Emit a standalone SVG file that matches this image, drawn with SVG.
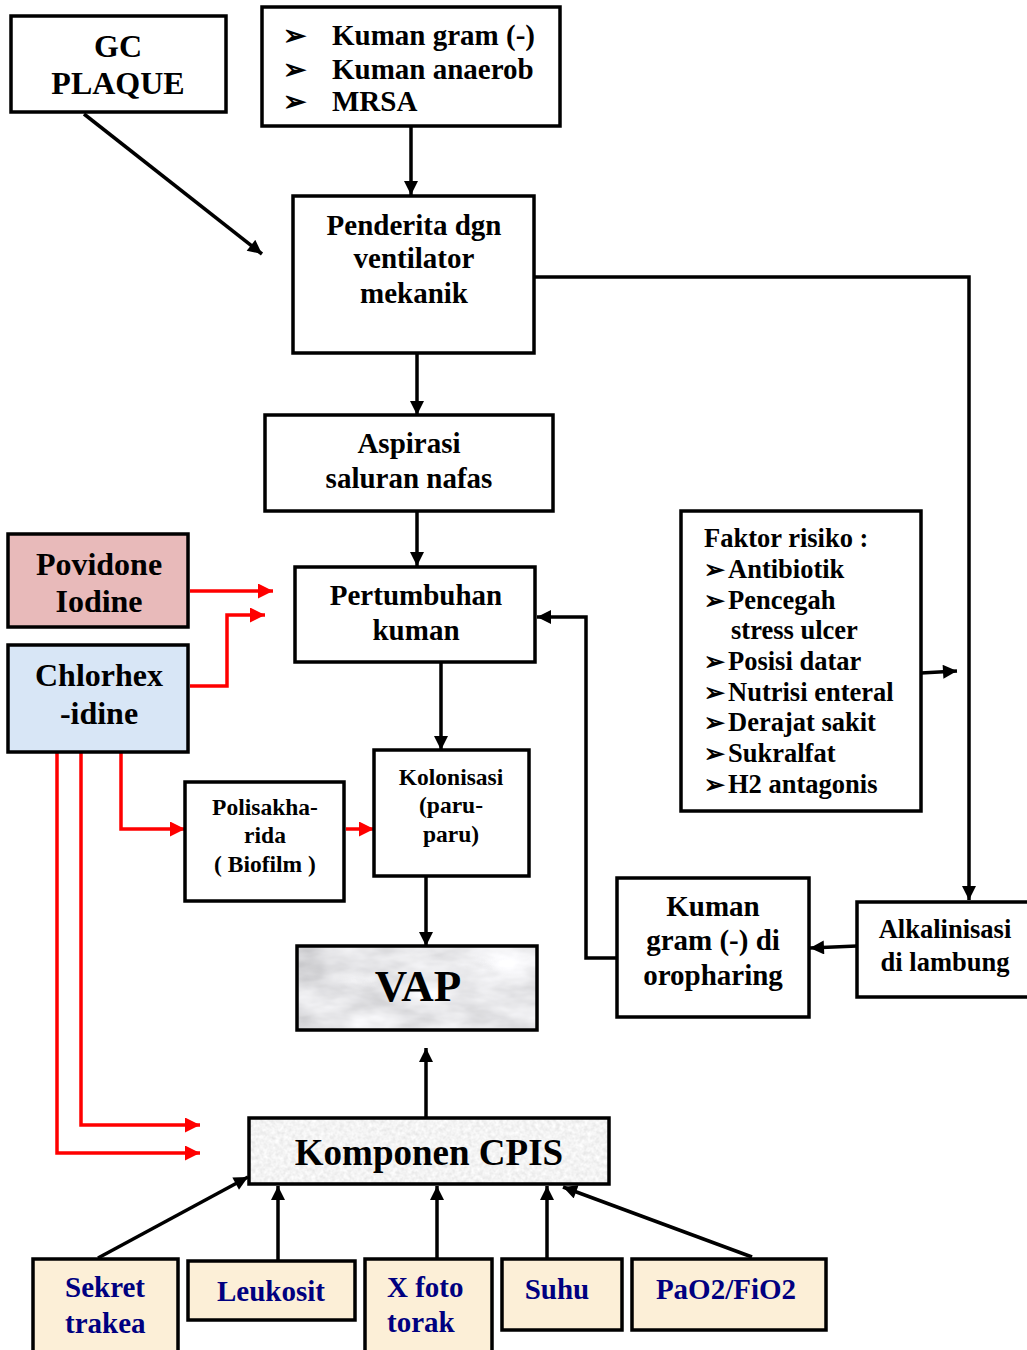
<svg xmlns="http://www.w3.org/2000/svg" width="1027" height="1350" viewBox="0 0 1027 1350">
<style>
  .box{fill:#fff;stroke:#000;stroke-width:3.5}
  .t{font-family:"Liberation Serif","Times New Roman",serif;font-weight:bold;fill:#000}
  .c{text-anchor:middle}
  .blue{fill:#000080}
  .cl{fill:none;stroke:#000;stroke-width:3.5}
  .rl{fill:none;stroke:#ff0000;stroke-width:3.5}
  .cream{fill:#fcefd7;stroke:#000;stroke-width:3.5}
</style>
<defs>
  <marker id="ah" viewBox="0 0 10 10" refX="10" refY="5" markerUnits="userSpaceOnUse" markerWidth="15" markerHeight="14" orient="auto">
    <path d="M0,0 L10,5 L0,10 z" fill="#000"/>
  </marker>
  <marker id="ahr" viewBox="0 0 10 10" refX="10" refY="5" markerUnits="userSpaceOnUse" markerWidth="15" markerHeight="15" orient="auto">
    <path d="M0,0 L10,5 L0,10 z" fill="#ff0000"/>
  </marker>
  <filter id="marble" x="0" y="0" width="1" height="1">
    <feTurbulence type="fractalNoise" baseFrequency="0.015 0.04" numOctaves="4" seed="3" result="n"/>
    <feColorMatrix in="n" type="matrix" values="0.6 0 0 0 0.5  0.6 0 0 0 0.5  0.6 0 0 0 0.52  0 0 0 0 1" result="g"/>
    <feComposite in="g" in2="SourceGraphic" operator="in"/>
  </filter>
  <filter id="speck" x="0" y="0" width="1" height="1">
    <feTurbulence type="fractalNoise" baseFrequency="0.25" numOctaves="2" seed="7" result="n"/>
    <feColorMatrix in="n" type="matrix" values="0.3 0 0 0 0.75  0.3 0 0 0 0.75  0.3 0 0 0 0.75  0 0 0 0 1" result="g"/>
    <feComposite in="g" in2="SourceGraphic" operator="in"/>
  </filter>
</defs>

<g id="connectors">
  <line class="cl" x1="84" y1="114" x2="262" y2="254" marker-end="url(#ah)"/>
  <line class="cl" x1="411" y1="126" x2="411" y2="195" marker-end="url(#ah)"/>
  <polyline class="cl" points="534,277 969,277 969,900" marker-end="url(#ah)"/>
  <line class="cl" x1="417" y1="353" x2="417" y2="415" marker-end="url(#ah)"/>
  <line class="cl" x1="417" y1="511" x2="417" y2="566" marker-end="url(#ah)"/>
  <line class="cl" x1="441" y1="662" x2="441" y2="750" marker-end="url(#ah)"/>
  <line class="cl" x1="426" y1="876" x2="426" y2="946" marker-end="url(#ah)"/>
  <line class="cl" x1="921" y1="673" x2="957" y2="671" marker-end="url(#ah)"/>
  <line class="cl" x1="857" y1="946" x2="810" y2="948" marker-end="url(#ah)"/>
  <polyline class="cl" points="617,958 586,958 586,617 537,617" marker-end="url(#ah)"/>
  <line class="cl" x1="426" y1="1118" x2="426" y2="1048" stroke-width="5" marker-end="url(#ah)"/>
  <line class="cl" x1="98" y1="1258" x2="248" y2="1177" marker-end="url(#ah)"/>
  <line class="cl" x1="278" y1="1260" x2="278" y2="1186" marker-end="url(#ah)"/>
  <line class="cl" x1="437" y1="1258" x2="437" y2="1186" marker-end="url(#ah)"/>
  <line class="cl" x1="547" y1="1258" x2="547" y2="1186" marker-end="url(#ah)"/>
  <line class="cl" x1="752" y1="1257" x2="563" y2="1187" marker-end="url(#ah)"/>
  <line class="rl" x1="190" y1="591" x2="273" y2="591" marker-end="url(#ahr)"/>
  <polyline class="rl" points="190,686 227,686 227,615 265,615" marker-end="url(#ahr)"/>
  <polyline class="rl" points="121,753 121,829 185,829" marker-end="url(#ahr)"/>
  <polyline class="rl" points="81,753 81,1125 200,1125" marker-end="url(#ahr)"/>
  <polyline class="rl" points="57,753 57,1153 200,1153" marker-end="url(#ahr)"/>
  <line class="rl" x1="346" y1="829" x2="374" y2="829" marker-end="url(#ahr)"/>
</g>

<g id="gc-plaque">
  <rect class="box" x="11" y="16" width="215" height="96"/>
  <text class="t c" x="118" y="57" font-size="32">GC</text>
  <text class="t c" x="118" y="94" font-size="32">PLAQUE</text>
</g>

<g id="kuman-list">
  <rect class="box" x="262" y="7" width="298" height="119"/>
  <text class="t" x="283" y="45" font-size="28">➢</text>
  <text class="t" x="283" y="79" font-size="28">➢</text>
  <text class="t" x="283" y="111" font-size="28">➢</text>
  <text class="t" x="332" y="45" font-size="29">Kuman gram (-)</text>
  <text class="t" x="332" y="79" font-size="29">Kuman anaerob</text>
  <text class="t" x="332" y="111" font-size="29">MRSA</text>
</g>

<g id="penderita">
  <rect class="box" x="293" y="196" width="241" height="157"/>
  <text class="t c" x="414" y="235" font-size="29">Penderita dgn</text>
  <text class="t c" x="414" y="268" font-size="29">ventilator</text>
  <text class="t c" x="414" y="303" font-size="29">mekanik</text>
</g>

<g id="aspirasi">
  <rect class="box" x="265" y="415" width="288" height="96"/>
  <text class="t c" x="409" y="453" font-size="29">Aspirasi</text>
  <text class="t c" x="409" y="488" font-size="29">saluran nafas</text>
</g>

<g id="pertumbuhan">
  <rect class="box" x="295" y="567" width="240" height="95"/>
  <text class="t c" x="416" y="605" font-size="29">Pertumbuhan</text>
  <text class="t c" x="416" y="640" font-size="29">kuman</text>
</g>

<g id="povidone">
  <rect x="8" y="534" width="180" height="93" fill="#e8baba" stroke="#000" stroke-width="3.5"/>
  <text class="t c" x="99" y="575" font-size="32">Povidone</text>
  <text class="t c" x="99" y="612" font-size="32">Iodine</text>
</g>

<g id="chlorhexidine">
  <rect x="8" y="645" width="180" height="107" fill="#d8e6f6" stroke="#000" stroke-width="3.5"/>
  <text class="t c" x="99" y="686" font-size="32">Chlorhex</text>
  <text class="t c" x="99" y="724" font-size="32">-idine</text>
</g>

<g id="polisakharida">
  <rect class="box" x="185" y="782" width="159" height="119"/>
  <text class="t c" x="265" y="815" font-size="23.5">Polisakha-</text>
  <text class="t c" x="265" y="843" font-size="23.5">rida</text>
  <text class="t c" x="265" y="872" font-size="23.5">( Biofilm )</text>
</g>

<g id="kolonisasi">
  <rect class="box" x="374" y="750" width="155" height="126"/>
  <text class="t c" x="451" y="785" font-size="23.5">Kolonisasi</text>
  <text class="t c" x="451" y="813" font-size="23.5">(paru-</text>
  <text class="t c" x="451" y="842" font-size="23.5">paru)</text>
</g>

<g id="vap">
  <rect x="297" y="946" width="240" height="84" fill="#d8d8d8" filter="url(#marble)"/>
  <rect x="297" y="946" width="240" height="84" fill="none" stroke="#000" stroke-width="3.5"/>
  <text class="t c" x="418" y="1001" font-size="45">VAP</text>
</g>

<g id="faktor-risiko">
  <rect class="box" x="681" y="511" width="240" height="300"/>
  <text class="t" x="704" y="547" font-size="26.5">Faktor risiko :</text>
  <text class="t" x="704" y="578" font-size="25">➢</text>
  <text class="t" x="728" y="578" font-size="26.5">Antibiotik</text>
  <text class="t" x="704" y="609" font-size="25">➢</text>
  <text class="t" x="728" y="609" font-size="26.5">Pencegah</text>
  <text class="t" x="731" y="639" font-size="26.5">stress ulcer</text>
  <text class="t" x="704" y="670" font-size="25">➢</text>
  <text class="t" x="728" y="670" font-size="26.5">Posisi datar</text>
  <text class="t" x="704" y="701" font-size="25">➢</text>
  <text class="t" x="728" y="701" font-size="26.5">Nutrisi enteral</text>
  <text class="t" x="704" y="731" font-size="25">➢</text>
  <text class="t" x="728" y="731" font-size="26.5">Derajat sakit</text>
  <text class="t" x="704" y="762" font-size="25">➢</text>
  <text class="t" x="728" y="762" font-size="26.5">Sukralfat</text>
  <text class="t" x="704" y="793" font-size="25">➢</text>
  <text class="t" x="728" y="793" font-size="26.5">H2 antagonis</text>
</g>

<g id="alkalinisasi">
  <rect class="box" x="857" y="902" width="175" height="95"/>
  <text class="t c" x="945" y="938" font-size="26.5">Alkalinisasi</text>
  <text class="t c" x="945" y="971" font-size="26.5">di lambung</text>
</g>

<g id="kuman-oropharing">
  <rect class="box" x="617" y="878" width="192" height="139"/>
  <text class="t c" x="713" y="916" font-size="29">Kuman</text>
  <text class="t c" x="713" y="950" font-size="29">gram (-) di</text>
  <text class="t c" x="713" y="985" font-size="29">oropharing</text>
</g>

<g id="komponen-cpis">
  <rect x="249" y="1118" width="360" height="66" fill="#e8e8e8" filter="url(#speck)"/>
  <rect x="249" y="1118" width="360" height="66" fill="none" stroke="#000" stroke-width="3.5"/>
  <text class="t c" x="429" y="1165" font-size="37">Komponen CPIS</text>
</g>

<g id="sekret-trakea">
  <rect class="cream" x="33" y="1259" width="145" height="100"/>
  <text class="t blue" x="65" y="1297" font-size="29">Sekret</text>
  <text class="t blue" x="65" y="1333" font-size="29">trakea</text>
</g>

<g id="leukosit">
  <rect class="cream" x="188" y="1261" width="167" height="59"/>
  <text class="t blue c" x="271" y="1301" font-size="29">Leukosit</text>
</g>

<g id="x-foto-torak">
  <rect class="cream" x="365" y="1259" width="127" height="100"/>
  <text class="t blue" x="387" y="1297" font-size="29">X foto</text>
  <text class="t blue" x="387" y="1332" font-size="29">torak</text>
</g>

<g id="suhu">
  <rect class="cream" x="502" y="1259" width="120" height="71"/>
  <text class="t blue c" x="557" y="1299" font-size="29">Suhu</text>
</g>

<g id="pao2-fio2">
  <rect class="cream" x="632" y="1259" width="194" height="71"/>
  <text class="t blue c" x="726" y="1299" font-size="29">PaO2/FiO2</text>
</g>
</svg>
